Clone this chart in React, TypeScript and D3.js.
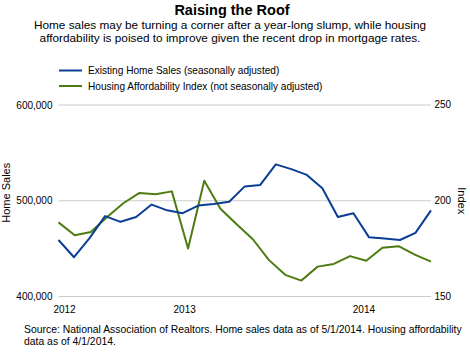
import React from "react";
import * as d3 from "d3";

// monthly categories (home sales run one month longer than the index)
const salesMonths = [
  "2012-05", "2012-06", "2012-07", "2012-08", "2012-09", "2012-10", "2012-11", "2012-12",
  "2013-01", "2013-02", "2013-03", "2013-04", "2013-05", "2013-06", "2013-07", "2013-08",
  "2013-09", "2013-10", "2013-11", "2013-12", "2014-01", "2014-02", "2014-03", "2014-04",
  "2014-05",
];
const homeSales = [
  459000, 441000, 461000, 484000, 478000, 483000, 496000, 490000,
  487000, 495000, 496500, 499000, 515000, 516500, 538000, 533000,
  527000, 513000, 483000, 487000, 462000, 460500, 459000, 466500,
  490000,
];

const indexMonths = salesMonths.slice(0, 24);
const affordIndex = [
  188.7, 182.0, 183.7, 191.5, 198.7, 204.1, 203.4, 204.9,
  175.1, 210.5, 195.8, 187.7, 179.9, 169.0, 161.3, 158.3,
  165.6, 167.0, 171.1, 168.7, 175.5, 176.3, 171.9, 168.2,
];

const leftTicks = [400000, 500000, 600000];
const rightTicks = [150, 200, 250];
const yearTicks = [
  { label: "2012", month: "2012-05", dx: 6 },
  { label: "2013", month: "2013-01", dx: 2 },
  { label: "2014", month: "2014-01", dx: -5 },
];

const BLUE = "#0a3e95";
const GREEN = "#4d7c12";
const FONT = "Arial, 'Liberation Sans', sans-serif";

const App = () => {
  const width = 470;
  const height = 359;
  const margin = { top: 105, left: 58.5, bottom: 62.5, right: 39 };

  const xSales = d3
    .scalePoint()
    .domain(salesMonths)
    .range([margin.left, width - margin.right]);
  const xIndex = d3
    .scalePoint()
    .domain(indexMonths)
    .range([margin.left, width - margin.right]);

  const yLeft = d3
    .scaleLinear()
    .domain([400000, 600000])
    .range([height - margin.bottom, margin.top]);
  const yRight = d3
    .scaleLinear()
    .domain([150, 250])
    .range([height - margin.bottom, margin.top]);

  const salesLine = d3
    .line<number>()
    .x((_, i) => xSales(salesMonths[i]) as number)
    .y((d) => yLeft(d));
  const indexLine = d3
    .line<number>()
    .x((_, i) => xIndex(indexMonths[i]) as number)
    .y((d) => yRight(d));

  const fmt = d3.format(",");
  const midY = (margin.top + height - margin.bottom) / 2;

  return (
    <svg
      width={width}
      height={height}
      style={{ position: "absolute", left: 0, top: 0, background: "#fff" }}
      fontFamily={FONT}
    >
      <text x={232} y={15} textAnchor="middle" fontSize={14.5} fontWeight="bold">
        Raising the Roof
      </text>
      <text x={230} y={28.5} textAnchor="middle" fontSize={11.8}>
        Home sales may be turning a corner after a year-long slump, while housing
      </text>
      <text x={230} y={41.5} textAnchor="middle" fontSize={11.8}>
        affordability is poised to improve given the recent drop in mortgage rates.
      </text>

      {/* legend */}
      <g fontSize={10.1}>
        <line x1={59} x2={82} y1={70.5} y2={70.5} stroke={BLUE} strokeWidth={2} />
        <text x={88} y={74}>Existing Home Sales (seasonally adjusted)</text>
        <line x1={59} x2={82} y1={86} y2={86} stroke={GREEN} strokeWidth={2} />
        <text x={88} y={89.5}>Housing Affordability Index (not seasonally adjusted)</text>
      </g>

      {/* grid + left axis labels */}
      {leftTicks.map((t) => (
        <g key={t}>
          <line
            x1={margin.left}
            x2={width - margin.right}
            y1={yLeft(t)}
            y2={yLeft(t)}
            stroke="#cccccc"
            strokeWidth={1}
          />
          <text x={52.5} y={yLeft(t) + 3.5} textAnchor="end" fontSize={10}>
            {fmt(t)}
          </text>
        </g>
      ))}
      {rightTicks.map((t) => (
        <text key={t} x={434.5} y={yRight(t) + 3} fontSize={10}>
          {t}
        </text>
      ))}

      <text
        transform={`translate(10, ${midY - 8}) rotate(-90)`}
        textAnchor="middle"
        fontSize={11}
      >
        Home Sales
      </text>
      <text
        transform={`translate(458, ${midY}) rotate(90)`}
        textAnchor="middle"
        fontSize={11}
      >
        Index
      </text>

      {yearTicks.map((t) => (
        <text
          key={t.label}
          x={(xSales(t.month) as number) + t.dx}
          y={312.5}
          textAnchor="middle"
          fontSize={10}
        >
          {t.label}
        </text>
      ))}

      <path
        d={indexLine(affordIndex) || ""}
        fill="none"
        stroke={GREEN}
        strokeWidth={2}
        strokeLinejoin="round"
      />
      <path
        d={salesLine(homeSales) || ""}
        fill="none"
        stroke={BLUE}
        strokeWidth={2}
        strokeLinejoin="round"
      />

      <g fontSize={10.4}>
        <text x={24} y={333}>
          Source: National Association of Realtors. Home sales data as of 5/1/2014. Housing affordability
        </text>
        <text x={24} y={344.5}>
          data as of 4/1/2014.
        </text>
      </g>
    </svg>
  );
};

export default App;
